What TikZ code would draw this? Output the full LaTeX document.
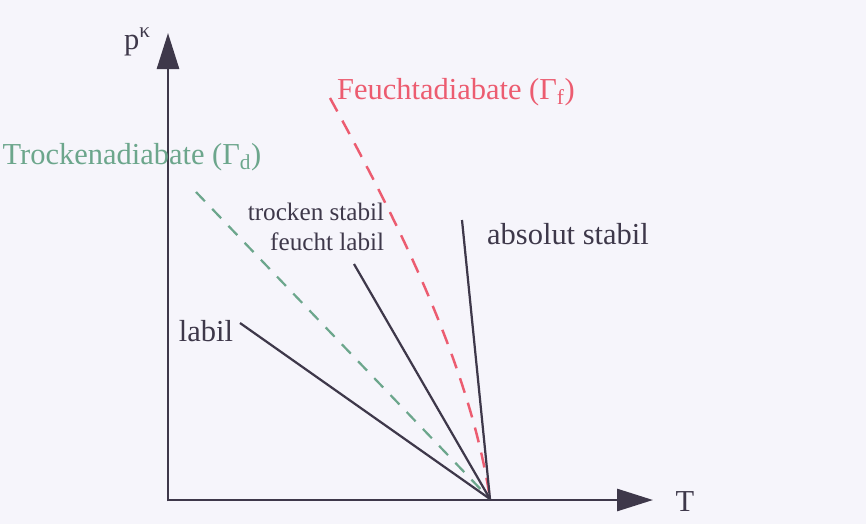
\documentclass[tikz,border=0pt]{standalone}
\usepackage{fontspec}
\setmainfont{Liberation Serif}
\usetikzlibrary{arrows.meta,positioning}
\definecolor{bgpaper}{RGB}{246,245,251}
\definecolor{inkdark}{RGB}{62,56,74}
\definecolor{drygreen}{RGB}{108,166,140}
\definecolor{moistred}{RGB}{236,92,112}

\begin{document}
\begin{tikzpicture}[x=0.03cm, y=-0.03cm,
    axis/.style={draw=inkdark, line width=2.4pt, -{Triangle[length=1.08cm, width=0.66cm]}},
    curve/.style={draw=inkdark, line width=1.9pt},
    dryline/.style={draw=drygreen, line width=1.9pt, dash pattern=on 11pt off 9pt},
    moistline/.style={draw=moistred, line width=2.1pt, dash pattern=on 13pt off 9pt},
    lab/.style={font=\fontsize{26}{30}\selectfont, text=inkdark, inner sep=0pt},
    smalllab/.style={font=\fontsize{21.5}{26}\selectfont, text=inkdark, inner sep=0pt, align=right}
  ]
    \fill[bgpaper] (0,0) rectangle (866,524);
    \useasboundingbox (0,0) rectangle (866,524);

    \coordinate (origin) at (168,500);
    \coordinate (ytip) at (168,33);
    \coordinate (xtip) at (653,500);
    \coordinate (pivot) at (490,499);

    \coordinate (labilend) at (240,323);
    \coordinate (mixedend) at (354,264);
    \coordinate (stableend) at (462,220);
    \coordinate (dryend) at (196,192);
    \coordinate (moistend) at (330,98);

    % axes
    \draw[axis] ([yshift=-1.2pt]origin) -- (ytip);
    \draw[axis] (origin) -- (xtip);
    \node[lab] (pk) at (137,42) {p\raisebox{10pt}{\fontsize{18}{20}\selectfont κ}};
    \node[lab] (taxis) at (685,502) {T};

    % adiabats
    \draw[dryline] (dryend) -- (pivot);
    \draw[moistline] (moistend) .. controls (398,222) and (470,365) .. (pivot);

    % profiles
    \draw[curve] (labilend) -- (pivot);
    \draw[curve] (mixedend) -- (pivot);
    \draw[curve] (stableend) -- (pivot);

    % labels
    \node[lab, text=drygreen] (drylab) at (132,157) {Trockenadiabate (Γ\textsubscript{d})};
    \node[lab, text=moistred] (moistlab) at (456,92) {Feuchtadiabate (Γ\textsubscript{f})};
    \node[smalllab] (mixedlab) at (316,227) {trocken stabil\\feucht labil};
    \node[lab] (stablelab) at (568,234) {absolut stabil};
    \node[lab] (labillab) at (206,331) {labil};
\end{tikzpicture}
\end{document}
